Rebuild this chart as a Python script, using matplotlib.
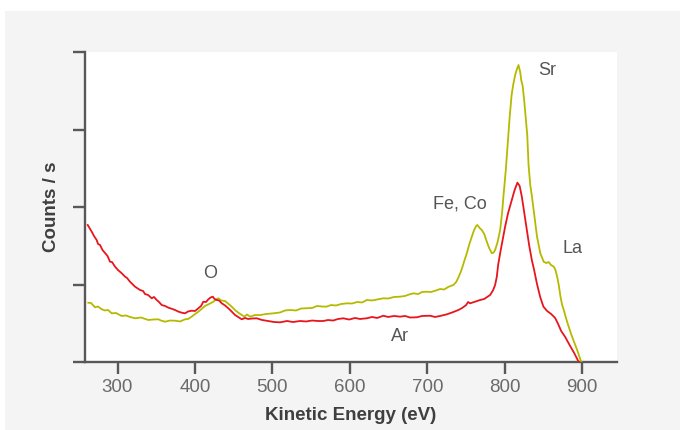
import matplotlib
matplotlib.use("Agg")
import matplotlib.pyplot as plt
from matplotlib.patches import Rectangle

# Auger survey spectra, kinetic energy (eV) vs. counts (arbitrary units)
red_energy = [261.5, 266.7, 269.6, 273.1, 274.8, 277.4, 280.6, 283.9, 287.1, 290.3,
              292.9, 296.8, 300.6, 305.4, 309.7, 312.3, 316.1, 322.6, 329.1, 333.0,
              335.5, 339.4, 344.2, 347.1, 350.6, 353.6, 357.1, 361.4, 365.6, 369.1,
              374.3, 378.1, 382.9, 387.2, 391.1, 395.8, 400.1, 404.4, 407.9, 410.8,
              414.3, 417.3, 420.1, 423.0, 425.3, 428.1, 431.1, 434.6, 438.9, 443.1,
              447.3, 451.8, 455.6, 460.4, 464.7, 468.6, 473.7, 479.8, 486.6, 494.4,
              502.2, 509.9, 518.9, 526.7, 535.7, 543.5, 551.2, 559.0, 565.8, 571.9,
              578.4, 584.8, 591.7, 599.0, 606.8, 613.2, 621.9, 628.7, 635.2, 643.3,
              649.4, 657.2, 664.9, 671.4, 677.8, 686.5, 693.3, 703.7, 710.1, 716.6,
              725.2, 732.1, 740.2, 745.0, 750.2, 752.7, 755.3, 760.5, 764.4, 768.3,
              773.5, 777.4, 781.2, 785.1, 787.6, 789.8, 791.5, 794.1, 797.3, 800.5,
              804.4, 809.2, 812.8, 816.4, 819.3, 822.1, 825.1, 828.5, 831.5, 835.0,
              838.0, 841.5, 845.8, 850.0, 854.8, 860.0, 865.1, 869.0, 872.9, 878.1,
              884.5, 889.7, 894.9, 896.5]
red_counts = [1.768, 1.681, 1.626, 1.574, 1.523, 1.510, 1.445, 1.406, 1.368, 1.294,
              1.290, 1.230, 1.187, 1.145, 1.101, 1.084, 1.036, 0.972, 0.929, 0.916,
              0.877, 0.865, 0.822, 0.839, 0.800, 0.774, 0.735, 0.723, 0.701, 0.690,
              0.671, 0.652, 0.636, 0.628, 0.652, 0.662, 0.658, 0.693, 0.723, 0.778,
              0.774, 0.809, 0.832, 0.843, 0.813, 0.800, 0.794, 0.757, 0.729, 0.693,
              0.652, 0.606, 0.581, 0.551, 0.568, 0.555, 0.561, 0.564, 0.542, 0.529,
              0.516, 0.512, 0.529, 0.516, 0.529, 0.523, 0.535, 0.529, 0.529, 0.542,
              0.535, 0.555, 0.564, 0.548, 0.568, 0.555, 0.564, 0.581, 0.568, 0.597,
              0.581, 0.594, 0.585, 0.594, 0.574, 0.577, 0.594, 0.597, 0.581, 0.594,
              0.615, 0.639, 0.671, 0.697, 0.735, 0.774, 0.757, 0.774, 0.787, 0.800,
              0.813, 0.839, 0.865, 0.929, 0.994, 1.101, 1.252, 1.403, 1.574, 1.746,
              1.923, 2.090, 2.219, 2.314, 2.271, 2.133, 1.935, 1.703, 1.510, 1.316,
              1.187, 1.015, 0.839, 0.714, 0.658, 0.619, 0.568, 0.490, 0.400, 0.323,
              0.206, 0.116, 0.013, 0.0]

yellow_energy = [262.3, 265.8, 270.9, 274.8, 279.6, 283.9, 287.7, 292.5, 298.1, 305.4,
                 311.0, 316.1, 322.6, 330.4, 339.8, 345.9, 352.7, 356.2, 361.4, 367.8,
                 374.3, 380.7, 387.2, 391.1, 395.8, 400.1, 404.4, 409.1, 413.0, 418.2,
                 423.7, 427.2, 430.2, 433.7, 438.9, 442.7, 447.5, 451.8, 456.0, 459.5,
                 463.8, 467.3, 471.1, 477.6, 484.1, 491.8, 501.2, 509.9, 516.4, 522.8,
                 530.6, 537.0, 544.4, 551.2, 557.7, 564.1, 569.7, 575.8, 582.2, 588.7,
                 596.1, 602.9, 609.4, 615.8, 621.9, 628.7, 635.2, 643.3, 649.4, 657.2,
                 664.9, 671.4, 676.5, 682.1, 688.2, 693.3, 699.4, 704.9, 711.4, 716.6,
                 721.8, 726.9, 733.8, 737.3, 739.9, 742.5, 745.0, 748.2, 751.1, 754.0,
                 757.5, 760.5, 763.1, 764.7, 767.6, 770.4, 773.5, 776.9, 779.9, 783.4,
                 785.7, 787.6, 790.8, 794.1, 796.7, 798.3, 801.4, 803.8, 806.3, 808.9,
                 810.9, 813.5, 815.4, 817.8, 820.0, 821.3, 823.2, 825.1, 827.1, 829.1,
                 830.8, 833.0, 835.2, 838.2, 841.7, 844.1, 846.0, 850.3, 853.8, 856.8,
                 859.7, 863.3, 865.5, 867.7, 870.0, 872.0, 874.2, 876.3, 879.1, 882.3,
                 886.2, 890.1, 894.0, 897.9, 899.2]
yellow_counts = [0.765, 0.761, 0.706, 0.716, 0.680, 0.665, 0.671, 0.628, 0.632, 0.594,
                 0.600, 0.581, 0.564, 0.574, 0.542, 0.548, 0.551, 0.535, 0.520, 0.535,
                 0.533, 0.523, 0.551, 0.555, 0.585, 0.619, 0.649, 0.690, 0.723, 0.748,
                 0.778, 0.806, 0.822, 0.794, 0.787, 0.755, 0.714, 0.671, 0.636, 0.613,
                 0.585, 0.613, 0.585, 0.606, 0.606, 0.619, 0.628, 0.639, 0.665, 0.671,
                 0.665, 0.690, 0.693, 0.697, 0.723, 0.716, 0.714, 0.735, 0.729, 0.748,
                 0.757, 0.755, 0.774, 0.768, 0.800, 0.794, 0.806, 0.822, 0.819, 0.839,
                 0.843, 0.852, 0.871, 0.886, 0.877, 0.903, 0.907, 0.903, 0.923, 0.942,
                 0.935, 0.968, 0.994, 1.032, 1.084, 1.145, 1.213, 1.316, 1.403, 1.510,
                 1.617, 1.703, 1.755, 1.768, 1.729, 1.703, 1.652, 1.552, 1.471, 1.403,
                 1.413, 1.445, 1.548, 1.703, 1.935, 2.133, 2.477, 2.800, 3.148, 3.445,
                 3.574, 3.703, 3.768, 3.832, 3.742, 3.639, 3.561, 3.381, 3.161, 2.929,
                 2.542, 2.284, 2.133, 1.897, 1.617, 1.497, 1.403, 1.294, 1.277, 1.290,
                 1.252, 1.230, 1.187, 1.101, 0.981, 0.843, 0.735, 0.671, 0.568, 0.465,
                 0.348, 0.245, 0.142, 0.026, 0.0]

peak_labels = ["O", "Ar", "Fe, Co", "Sr", "La"]
peak_energy = [419.5, 664.9, 742.4, 854.8, 887.1]
peak_counts = [1.148, 0.323, 2.045, 3.755, 1.465]

x_ticks = [300, 400, 500, 600, 700, 800, 900]
y_ticks = [0, 1, 2, 3, 4]

plt.rcParams["font.family"] = ["Liberation Sans", "DejaVu Sans"]
axis_grey = "#585858"
text_grey = "#555555"

fig = plt.figure(figsize=(6.8, 4.3), dpi=100, facecolor="white")
# light grey card behind the plot
fig.patches.append(Rectangle((5 / 680, 0), 1, 1 - 11 / 430, transform=fig.transFigure,
                             facecolor="#f4f4f4", edgecolor="none", zorder=-10))
ax = fig.add_axes([85 / 680, 1 - 362 / 430, (617 - 85) / 680, (362 - 52) / 430])
ax.set_facecolor("white")

ax.plot(yellow_energy, yellow_counts, color="#b5ba00", lw=1.3, zorder=3)
ax.plot(red_energy, red_counts, color="#e8151d", lw=1.3, zorder=4)

for lbl, xe, yc in zip(peak_labels, peak_energy, peak_counts):
    ax.text(xe, yc, lbl, ha="center", va="center", fontsize=13, color=text_grey)

ax.set_xlim(258, 945)
ax.set_ylim(0, 4)
ax.set_xticks(x_ticks)
ax.set_yticks(y_ticks)
ax.set_yticklabels([])
ax.tick_params(axis="both", direction="out", length=8.5, width=1.7, color=axis_grey)
ax.tick_params(axis="x", labelsize=13.5, labelcolor="#6a6a6a", pad=4)

for side in ["top", "right"]:
    ax.spines[side].set_visible(False)
for side in ["left", "bottom"]:
    ax.spines[side].set_color(axis_grey)
    ax.spines[side].set_linewidth(1.7)

ax.set_xlabel("Kinetic Energy (eV)", fontsize=13.5, fontweight="bold", color="#3f3f3f", labelpad=8)
ax.set_ylabel("Counts / s", fontsize=13.5, fontweight="bold", color="#3f3f3f", labelpad=6)

fig.savefig("out.png", dpi=100, facecolor=fig.get_facecolor())
